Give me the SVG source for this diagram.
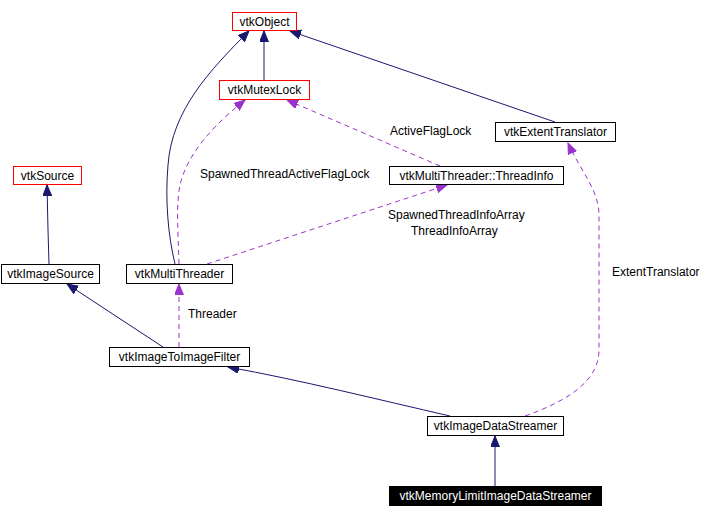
<svg xmlns="http://www.w3.org/2000/svg" width="705" height="517" viewBox="0 0 705 517">
<style>
text{font-family:"Liberation Sans",Arial,sans-serif;font-size:12px;fill:#000}
.n rect{fill:#fff;stroke:#000;stroke-width:1}
.n.red rect{stroke:#ff0000}
.n text{text-anchor:middle}
.n.dark rect{fill:#000}
.n.dark text{fill:#fff}
.inh{fill:none;stroke:#191970;stroke-width:1;marker-end:url(#ab)}
.use{fill:none;stroke:#9a32cd;stroke-width:1;stroke-dasharray:5,4;marker-end:url(#ap)}
</style>
<defs>
<marker id="ab" markerUnits="userSpaceOnUse" markerWidth="12" markerHeight="10" refX="11" refY="4.5" orient="auto"><path d="M0,0 L11,4.5 L0,9 z" fill="#191970" stroke="#191970"/></marker>
<marker id="ap" markerUnits="userSpaceOnUse" markerWidth="12" markerHeight="10" refX="11" refY="4.5" orient="auto"><path d="M0,0 L11,4.5 L0,9 z" fill="#9a32cd" stroke="#9a32cd"/></marker>
</defs>
<rect width="705" height="517" fill="#fff"/>
<g id="connectors">
<path class="inh" d="M264,80 L264,31"/>
<path class="inh" d="M175,264 C168,235 165,200 168,165 C172,110 210,70 249,31"/>
<path class="inh" d="M555,122 L290,31"/>
<path class="inh" d="M49,264 L48,230 L47,185"/>
<path class="inh" d="M163,347 L67,284"/>
<path class="inh" d="M450,416 C380,400 300,380 228,367"/>
<path class="inh" d="M495,486 L495,436"/>
<path class="use" d="M179,264 C178,230 176,205 180,185 C188,150 220,120 245,100"/>
<path class="use" d="M440,166 L287,100"/>
<path class="use" d="M207,264 L447,185"/>
<path class="use" d="M179,347 L179,284"/>
<path class="use" d="M525,416 C570,400 599,380 599,350 L599,215 C599,190 580,170 568,143"/>
<text x="200" y="178">SpawnedThreadActiveFlagLock</text>
<text x="390" y="135">ActiveFlagLock</text>
<text x="388" y="219">SpawnedThreadInfoArray</text>
<text x="411" y="235">ThreadInfoArray</text>
<text x="188" y="318">Threader</text>
<text x="612" y="276">ExtentTranslator</text>
</g>
<g id="vtkObject" class="n red"><rect x="232.5" y="12.5" width="64" height="18"/><text x="264.5" y="25.5">vtkObject</text></g>
<g id="vtkMutexLock" class="n red"><rect x="219.5" y="80.5" width="90" height="19"/><text x="264.5" y="94">vtkMutexLock</text></g>
<g id="vtkExtentTranslator" class="n"><rect x="495.5" y="122.5" width="120" height="19"/><text x="555.5" y="136">vtkExtentTranslator</text></g>
<g id="vtkMultiThreaderThreadInfo" class="n"><rect x="389.5" y="166.5" width="174" height="18"/><text x="476.5" y="180">vtkMultiThreader::ThreadInfo</text></g>
<g id="vtkSource" class="n red"><rect x="13.5" y="166.5" width="68" height="18"/><text x="47.5" y="180">vtkSource</text></g>
<g id="vtkImageSource" class="n"><rect x="1.5" y="264.5" width="98" height="19"/><text x="50.5" y="278">vtkImageSource</text></g>
<g id="vtkMultiThreader" class="n"><rect x="126.5" y="264.5" width="106" height="19"/><text x="179.5" y="278">vtkMultiThreader</text></g>
<g id="vtkImageToImageFilter" class="n"><rect x="109.5" y="347.5" width="140" height="19"/><text x="179.5" y="361">vtkImageToImageFilter</text></g>
<g id="vtkImageDataStreamer" class="n"><rect x="427.5" y="416.5" width="136" height="19"/><text x="495.5" y="430">vtkImageDataStreamer</text></g>
<g id="vtkMemoryLimitImageDataStreamer" class="n dark"><rect x="389.5" y="486.5" width="212" height="19"/><text x="495.5" y="500">vtkMemoryLimitImageDataStreamer</text></g>
</svg>
